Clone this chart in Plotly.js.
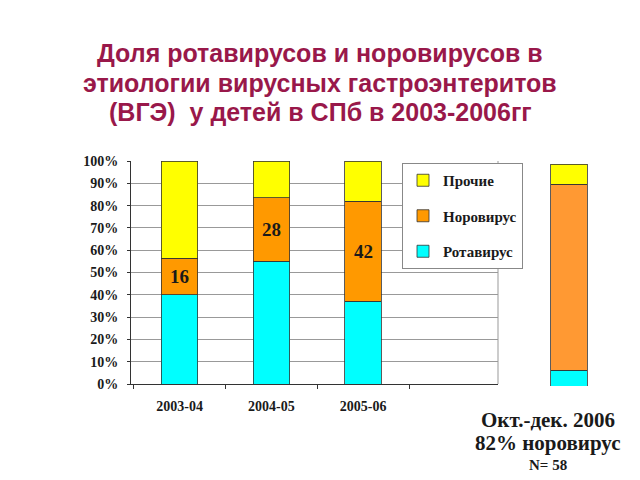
<!DOCTYPE html>
<html>
<head>
<meta charset="utf-8">
<script src="https://cdn.plot.ly/plotly-3.0.1.min.js"></script>
<style>html,body{margin:0;padding:0;background:#fff;}#chart{width:640px;height:480px;}</style>
</head>
<body>
<div id="chart"></div>
<script>
const categories = ['2003-04', '2004-05', '2005-06', ' '];
const rotaValues = [40, 55, 37];
const noroValues = [16.5, 28.5, 45];
const otherValues = [43.5, 16.5, 18];
const noroLabels = ['16', '28', '42'];
const yTickVals = [0, 10, 20, 30, 40, 50, 60, 70, 80, 90, 100];
const yTickText = ['0%', '10%', '20%', '30%', '40%', '50%', '60%', '70%', '80%', '90%', '100%'];
const sideCategory = ['Окт.-дек. 2006'];
const sideRota = [7];
const sideNoro = [83];
const sideOther = [9];
const titleLines = ['Доля ротавирусов и норовирусов в', 'этиологии вирусных гастроэнтеритов', '(ВГЭ)  у детей в СПб в 2003-2006гг'];
const sideLines = ['Окт.-дек. 2006', '82% норовирус', 'N= 58'];

const serif = 'Liberation Serif, Times New Roman, serif';
const sans = 'Liberation Sans, Arial, sans-serif';
const line = {color: '#333', width: 0.8};
const cats3 = categories.slice(0, 3);

const traces = [
  {type: 'bar', name: 'Ротавирус', x: cats3, y: rotaValues, marker: {color: '#00FFFF', line: line}, width: 0.4, legendgroup: 'c', legendrank: 3, hoverinfo: 'skip'},
  {type: 'bar', name: 'Норовирус', x: cats3, y: noroValues, marker: {color: '#FF9900', line: line}, width: 0.4, legendgroup: 'b', legendrank: 2, hoverinfo: 'skip'},
  {type: 'bar', name: 'Прочие', x: cats3, y: otherValues, marker: {color: '#FFFF00', line: line}, width: 0.4, legendgroup: 'a', legendrank: 1, hoverinfo: 'skip'},
  {type: 'bar', name: 'Ротавирус', x: sideCategory, y: sideRota, xaxis: 'x2', yaxis: 'y2', marker: {color: '#00FFFF', line: line}, width: 0.49, showlegend: false, hoverinfo: 'skip'},
  {type: 'bar', name: 'Норовирус', x: sideCategory, y: sideNoro, xaxis: 'x2', yaxis: 'y2', marker: {color: '#FF9933', line: line}, width: 0.49, showlegend: false, hoverinfo: 'skip'},
  {type: 'bar', name: 'Прочие', x: sideCategory, y: sideOther, xaxis: 'x2', yaxis: 'y2', marker: {color: '#FFFF00', line: line}, width: 0.49, showlegend: false, hoverinfo: 'skip'}
];

const annotations = [];
titleLines.forEach((t, i) => {
  annotations.push({xref: 'paper', yref: 'paper', x: 0.5, y: 1 - (53 + i * 29.5) / 480, text: '<b>' + t + '</b>', showarrow: false,
    xanchor: 'center', yanchor: 'middle', font: {family: sans, size: 25, color: '#99184A'}});
});
cats3.forEach((c, i) => {
  annotations.push({xref: 'x', yref: 'y', x: c, y: rotaValues[i] + noroValues[i] / 2, text: '<b>' + noroLabels[i] + '</b>', showarrow: false,
    font: {family: serif, size: 19, color: '#1a1a1a'}});
});
const sideY = [420, 443, 465];
const sideSize = [21, 21, 15];
sideLines.forEach((t, i) => {
  annotations.push({xref: 'paper', yref: 'paper', x: 548 / 640, y: 1 - sideY[i] / 480, text: '<b>' + t + '</b>', showarrow: false,
    xanchor: 'center', yanchor: 'middle', font: {family: serif, size: sideSize[i], color: '#1a1a1a'}});
});

const layout = {
  width: 640, height: 480,
  margin: {l: 0, r: 0, t: 0, b: 0},
  paper_bgcolor: '#fff', plot_bgcolor: '#fff',
  barmode: 'stack',
  showlegend: true,
  legend: {x: 402 / 640, y: 1 - 163 / 480, xanchor: 'left', yanchor: 'top', traceorder: 'grouped', tracegroupgap: 13,
    bgcolor: '#fff', bordercolor: '#888', borderwidth: 1, font: {family: serif, size: 15, color: '#1a1a1a', weight: 'bold'}, itemwidth: 30},
  xaxis: {domain: [131 / 640, 498 / 640], type: 'category', categoryorder: 'array', categoryarray: categories, range: [-0.53, 3.47],
    tickson: 'boundaries', ticks: 'outside', ticklen: 4, tickcolor: '#333', showline: true, linecolor: '#333', linewidth: 1,
    showgrid: false, tickfont: {family: serif, size: 14, color: '#1a1a1a', weight: 'bold'}, ticklabelstandoff: 9, fixedrange: true},
  yaxis: {domain: [1 - 384 / 480, 1 - 161 / 480], range: [0, 100], tickvals: yTickVals, ticktext: yTickText, ticks: 'outside', ticklen: 3,
    tickcolor: '#333', showline: true, linecolor: '#333', linewidth: 1, showgrid: true, gridcolor: '#999', gridwidth: 1,
    tickfont: {family: serif, size: 14, color: '#1a1a1a', weight: 'bold'}, ticklabelstandoff: 6, zeroline: false, fixedrange: true},
  xaxis2: {domain: [532 / 640, 606 / 640], anchor: 'y2', showticklabels: false, showline: false, showgrid: false, ticks: '', fixedrange: true},
  yaxis2: {domain: [1 - 386 / 480, 1 - 164 / 480], anchor: 'x2', range: [0, 99], showticklabels: false, showline: false, showgrid: false,
    zeroline: false, ticks: '', fixedrange: true},
  shapes: [
    {type: 'line', xref: 'paper', yref: 'paper', x0: 498 / 640, x1: 498 / 640, y0: 1 - 384 / 480, y1: 1 - 161 / 480, line: {color: '#999', width: 1}}
  ],
  annotations: annotations
};

Plotly.newPlot('chart', traces, layout, {displayModeBar: false, staticPlot: true});
</script>
</body>
</html>
